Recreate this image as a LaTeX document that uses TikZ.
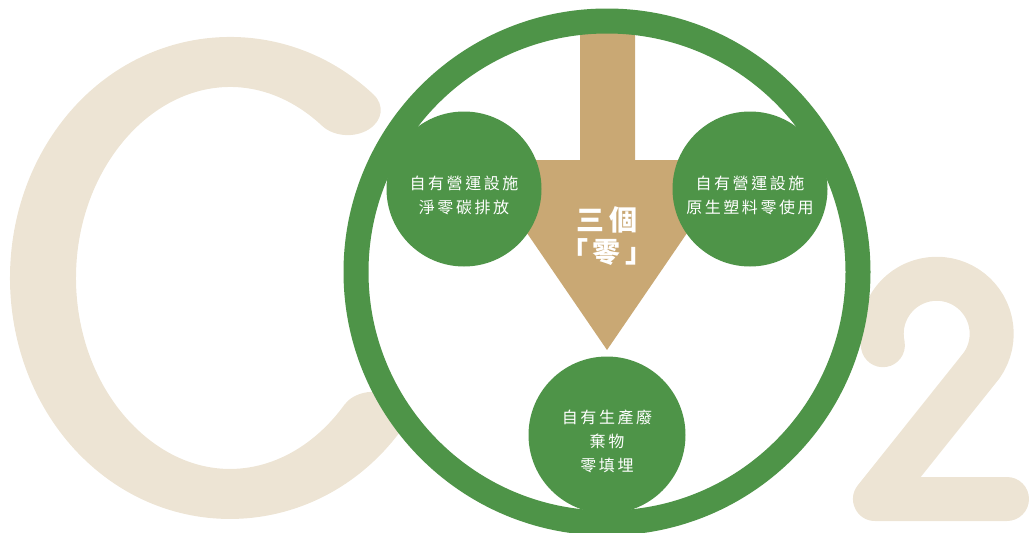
\documentclass[tikz,border=0pt]{standalone}
\usepackage{fontspec}
\newfontfamily\cjk{Noto Sans CJK TC}[LetterSpace=16]
\definecolor{ringgreen}{HTML}{4E9448}
\definecolor{arrowtan}{HTML}{C9A874}
\definecolor{beige}{HTML}{EDE4D4}
\begin{document}
\begin{tikzpicture}[x=1pt,y=-1pt,
  letter/.style={draw=beige, line cap=round, line join=round},
  ringline/.style={draw=ringgreen, line width=25pt},
  bubble/.style={circle, fill=ringgreen, minimum size=155pt, inner sep=0pt},
  bubbletext/.style={text=white, align=center, inner sep=0pt, font=\cjk\fontsize{16}{24}\selectfont},
  centertext/.style={text=white, align=center, inner sep=0pt, font=\cjk\bfseries\fontsize{28}{32}\selectfont}]
\useasboundingbox (0,0) rectangle (1029,533);
% big C
\begin{scope}[transform canvas={xshift=230pt, yshift=-278pt, xscale=1.32}]
  \draw[letter, line width=50pt] (89.2,-167.9) arc[start angle=-51, end angle=-320, x radius=141.7, y radius=216];
\end{scope}
% big 2
\draw[letter, line width=44pt] (882.9,345.2) arc[start angle=168, end angle=395, radius=55] -- (875,499) -- (1007,499);
% arrow
\fill[arrowtan] (580,20) -- (635,20) -- (635,160) -- (737,160) -- (607,350) -- (477,160) -- (580,160) -- cycle;
% ring
\draw[ringline] (607,272) circle[radius=251];
% bubbles
\node[bubble] (left) at (464,189) {};
\node[bubble] (right) at (750,189) {};
\node[bubble, minimum size=157pt] (bottom) at (607,435) {};
\node[bubbletext] (lefttext) at (464,195) {自有營運設施\\淨零碳排放};
\node[bubbletext] (righttext) at (750,195) {自有營運設施\\原生塑料零使用};
\node[bubbletext] (bottomtext) at (607,441) {自有生產廢\\棄物\\零填埋};
\node[centertext] (three) at (607,236) {三個\\「零」};
\end{tikzpicture}
\end{document}
